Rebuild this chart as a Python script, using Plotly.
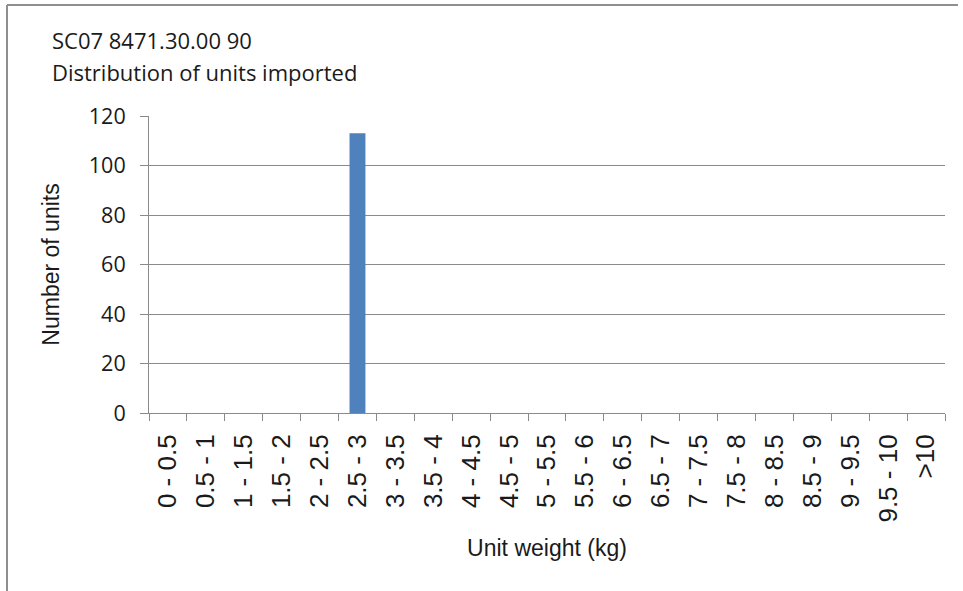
import plotly.graph_objects as go

# Unit weight bins (kg) and number of units imported in each
weight_bins = ["0 - 0.5", "0.5 - 1", "1 - 1.5", "1.5 - 2", "2 - 2.5", "2.5 - 3",
               "3 - 3.5", "3.5 - 4", "4 - 4.5", "4.5 - 5", "5 - 5.5", "5.5 - 6",
               "6 - 6.5", "6.5 - 7", "7 - 7.5", "7.5 - 8", "8 - 8.5", "8.5 - 9",
               "9 - 9.5", "9.5 - 10", ">10"]
units = [0, 0, 0, 0, 0, 113, 0, 0, 0, 0, 0, 0, 0, 0, 0, 0, 0, 0, 0, 0, 0]
y_ticks = [0, 20, 40, 60, 80, 100, 120]

title_lines = ["SC07 8471.30.00 90", "Distribution of units imported"]

W, H = 963, 591
ML, MR, MT, MB = 149, 18, 116, 178
PW, PH = W - ML - MR, H - MT - MB


def px_x(x):
    return (x - ML) / PW


def px_y(y):
    return 1 - (y - MT) / PH


grid = "#8a8a8a"
txt = "#1a1a1a"

fig = go.Figure(go.Bar(x=weight_bins, y=units, marker=dict(color="#4f81bd", line=dict(width=0)),
                       hoverinfo="x+y"))

fig.update_layout(
    width=W, height=H,
    margin=dict(l=ML, r=MR, t=MT, b=MB, autoexpand=False),
    paper_bgcolor="white", plot_bgcolor="white",
    bargap=0.58,
    showlegend=False,
    xaxis=dict(
        type="category",
        tickangle=-90,
        tickfont=dict(family="Liberation Sans Narrow, Arial Narrow, Liberation Sans", size=26, color=txt),
        ticks="outside", ticklen=7, tickcolor=grid, tickwidth=1,
        tickson="boundaries",
        ticklabelstandoff=10,
        showline=True, linecolor=grid, linewidth=1,
        showgrid=False,
        title=dict(text="Unit weight (kg)", font=dict(family="Liberation Sans, Arial", size=23, color=txt),
                   standoff=18),
    ),
    yaxis=dict(
        range=[0, 120], tickvals=y_ticks,
        tickfont=dict(family="Open Sans", size=21.5, color=txt),
        ticks="outside", ticklen=8, tickcolor=grid, tickwidth=1,
        ticklabelstandoff=10,
        showline=True, linecolor=grid, linewidth=1,
        showgrid=True, gridcolor=grid, gridwidth=1,
        zeroline=False,
        title=dict(text="Number of units", font=dict(family="Liberation Sans, Arial", size=23, color=txt),
                   standoff=22),
    ),
)

# Two-line chart heading, left aligned above the plot
for i, line in enumerate(title_lines):
    fig.add_annotation(
        text=line, xref="paper", yref="paper",
        x=px_x(50), y=px_y(40 + 32 * i),
        xanchor="left", yanchor="middle", showarrow=False,
        font=dict(family="Open Sans", size=22, color=txt),
    )

# Chart-area frame (top and left edges)
fig.add_shape(type="line", xref="paper", yref="paper",
              x0=px_x(7), y0=px_y(5), x1=px_x(958), y1=px_y(5),
              line=dict(color="#8f8f8f", width=2))
fig.add_shape(type="line", xref="paper", yref="paper",
              x0=px_x(7), y0=px_y(5), x1=px_x(7), y1=px_y(591),
              line=dict(color="#8f8f8f", width=2))

fig.write_html("out.html")
